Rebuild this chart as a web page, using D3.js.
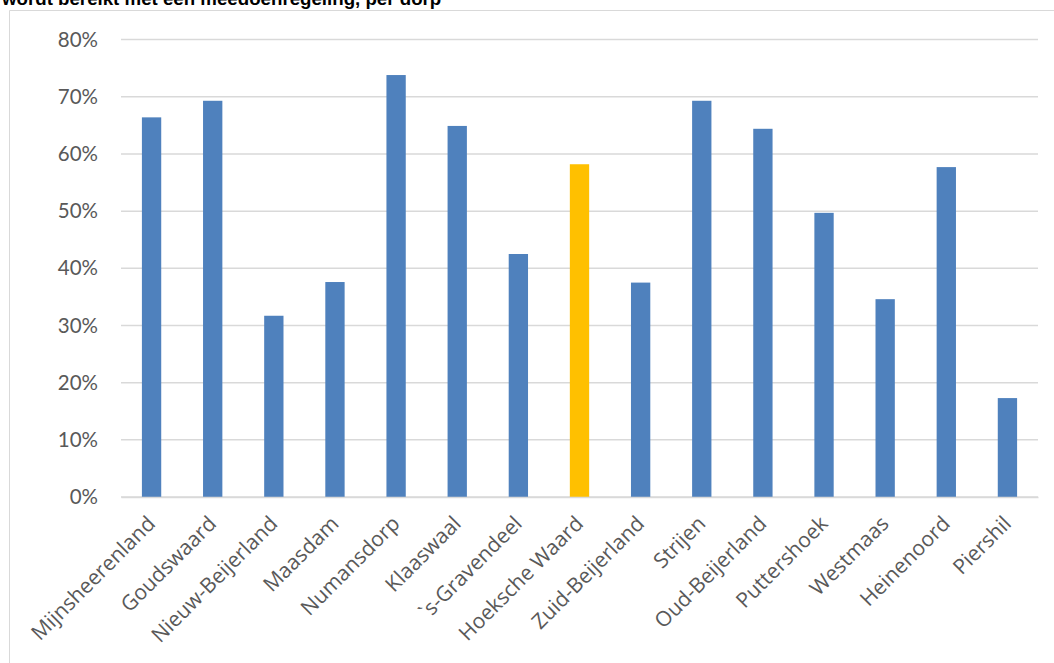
<!DOCTYPE html>
<html><head><meta charset="utf-8">
<script src="https://cdn.jsdelivr.net/npm/d3@7"></script>
<style>html,body{margin:0;padding:0;background:#fff;}svg{display:block;}</style>
</head><body>
<svg id="c" width="1054" height="663"></svg>
<script>
const categories = ["Mijnsheerenland","Goudswaard","Nieuw-Beijerland","Maasdam","Numansdorp","Klaaswaal","`s-Gravendeel","Hoeksche Waard","Zuid-Beijerland","Strijen","Oud-Beijerland","Puttershoek","Westmaas","Heinenoord","Piershil"];
const values = [0.664,0.693,0.317,0.376,0.738,0.649,0.425,0.582,0.375,0.693,0.644,0.497,0.346,0.577,0.173];
const highlight = ["Hoeksche Waard"];
const yTicks = [0,0.1,0.2,0.3,0.4,0.5,0.6,0.7,0.8];
const title = "wordt bereikt met een meedoenregeling, per dorp";

const svg = d3.select("#c");
// chart frame (partially visible)
svg.append("path").attr("d","M9.5,663 V10.5 H1054").attr("fill","none").attr("stroke","#d9d9d9").attr("stroke-width",1);

svg.append("text").attr("x",2).attr("y",5).attr("font-family","Liberation Sans, Arial, sans-serif")
  .attr("font-weight","bold").attr("font-size",18.7).attr("fill","#000").text(title);

const x = d3.scaleBand().domain(categories).range([121,1038]).paddingInner(0.684).paddingOuter(0.342);
const y = d3.scaleLinear().domain([0,0.8]).range([497,39.6]);

const grid = svg.append("g");
grid.selectAll("line").data(yTicks).join("line")
  .attr("x1",121).attr("x2",1038).attr("y1",d=>y(d)).attr("y2",d=>y(d))
  .attr("stroke","#d9d9d9").attr("stroke-width",1.5);

const yAxis = d3.axisLeft(y).tickValues(yTicks).tickFormat(d3.format(".0%")).tickSize(0).tickPadding(0);
const ya = svg.append("g").attr("transform","translate(98,0)").call(yAxis);
ya.select(".domain").remove();
ya.selectAll("text").attr("font-family","Lato, sans-serif").attr("font-size",20.5).attr("fill","#595959");

svg.append("g").selectAll("rect").data(categories).join("rect")
  .attr("x",d=>x(d)).attr("width",x.bandwidth())
  .attr("y",(d,i)=>y(values[i])).attr("height",(d,i)=>y(0)-y(values[i]))
  .attr("fill",d=>highlight.includes(d)?"#ffc000":"#4f81bd");

const xAxis = d3.axisBottom(x).tickSize(0).tickPadding(0);
const xa = svg.append("g").attr("transform","translate(0,497)").call(xAxis);
xa.select(".domain").attr("stroke","#d9d9d9").attr("stroke-width",1.5);
xa.selectAll("text").attr("font-family","Open Sans, sans-serif").attr("font-size",21).attr("fill","#595959")
  .attr("text-anchor","end").attr("dy",null).attr("y",0)
  .attr("transform","translate(5,28) rotate(-45)");
</script>
</body></html>
